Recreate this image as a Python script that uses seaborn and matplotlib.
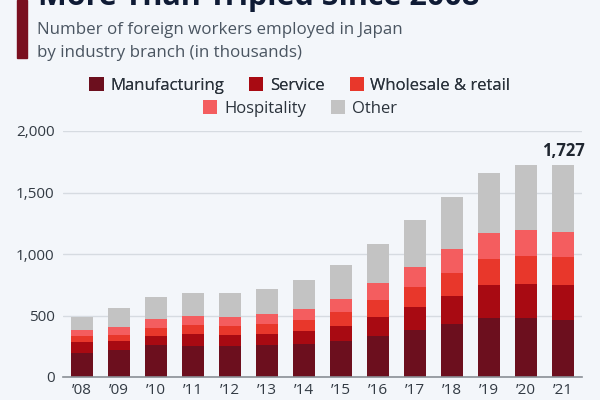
import matplotlib
matplotlib.use("Agg")
import matplotlib.pyplot as plt
import seaborn as sns
import numpy as np
from matplotlib.patches import Patch, Rectangle

years = ["\u201908", "\u201909", "\u201910", "\u201911", "\u201912", "\u201913", "\u201914",
         "\u201915", "\u201916", "\u201917", "\u201918", "\u201919", "\u201920", "\u201921"]
manufacturing = [195, 217, 258, 255, 250, 258, 266, 290, 336, 385, 429, 478, 478, 465]
service = [90, 73, 76, 95, 89, 92, 106, 125, 152, 188, 230, 268, 276, 281]
wholesale = [46, 55, 62, 71, 73, 79, 92, 111, 136, 162, 188, 215, 231, 228]
hospitality = [49, 62, 76, 76, 76, 84, 92, 112, 138, 163, 190, 206, 209, 204]
other = [106, 156, 178, 189, 194, 205, 232, 270, 322, 381, 423, 492, 530, 549]
series_names = ["Manufacturing", "Service", "Wholesale & retail", "Hospitality", "Other"]
colors = ["#6c0f1e", "#a80a12", "#e8372b", "#f45d5f", "#c3c3c3"]

bg = "#f3f6fa"
sns.set_theme(style="white")
plt.rcParams["font.family"] = ["Open Sans", "DejaVu Sans"]

fig = plt.figure(figsize=(6, 4), dpi=100, facecolor=bg)
ax = fig.add_axes([63 / 600, 23 / 400, (582 - 63) / 600, (377 - 131) / 400])
ax.set_facecolor(bg)

data = [manufacturing, service, wholesale, hospitality, other]
cum = np.cumsum(np.array(data), axis=0)
for i in range(len(data) - 1, -1, -1):
    sns.barplot(x=years, y=cum[i], color=colors[i], saturation=1, width=0.6, ax=ax,
                linewidth=0, zorder=3)

ax.set_ylim(0, 2000)
ax.set_xlim(-0.51, len(years) - 0.49)
ax.set_yticks([0, 500, 1000, 1500, 2000])
ax.set_yticklabels(["0", "500", "1,000", "1,500", "2,000"])
ax.grid(axis="y", color="#d6dbe1", linewidth=1, zorder=0)
ax.set_axisbelow(True)
for s in ["top", "right", "left"]:
    ax.spines[s].set_visible(False)
ax.spines["bottom"].set_color("#8a8f96")
ax.spines["bottom"].set_linewidth(1.2)
ax.spines["bottom"].set_zorder(4)
ax.tick_params(axis="both", length=0, labelsize=11, labelcolor="#333b44")
ax.tick_params(axis="y", pad=6)
ax.tick_params(axis="x", pad=4)
ax.set_xlabel("")
ax.set_ylabel("")

total_last = cum[-1][-1]
ax.text(len(years) - 1, total_last + 40, f"{total_last:,}", ha="center", va="bottom",
        fontsize=12, fontweight="bold", color="#1f2630")

# header
fig.patches.append(Rectangle((17 / 600, 1 - 58 / 400), 10 / 600, 58 / 400,
                             transform=fig.transFigure, color="#7a0f1f", zorder=5))
fig.text(38 / 600, 1 - 5 / 400, "More Than Tripled Since 2008", ha="left", va="baseline",
         fontsize=22, fontweight="bold", color="#0f1b35")
fig.text(37 / 600, 1 - 34 / 400, "Number of foreign workers employed in Japan",
         ha="left", va="baseline", fontsize=12.2, color="#4a5561")
fig.text(37 / 600, 1 - 57 / 400, "by industry branch (in thousands)",
         ha="left", va="baseline", fontsize=12.2, color="#4a5561")

handles = [Patch(facecolor=c, edgecolor="none", label=n) for c, n in zip(colors, series_names)]
leg_kw = dict(frameon=False, fontsize=12, handlelength=0.85, handleheight=0.85,
              handletextpad=0.4, columnspacing=1.5, labelcolor="#2b333c")
leg1 = fig.legend(handles=handles[:3], loc="center", bbox_to_anchor=(0.5, 1 - 85.5 / 400),
                  ncol=3, **leg_kw)
fig.add_artist(leg1)
leg2 = fig.legend(handles=handles[3:], loc="center", bbox_to_anchor=(0.5, 1 - 108.5 / 400),
                  ncol=2, **leg_kw)

fig.savefig("out.png", dpi=100, facecolor=bg)
